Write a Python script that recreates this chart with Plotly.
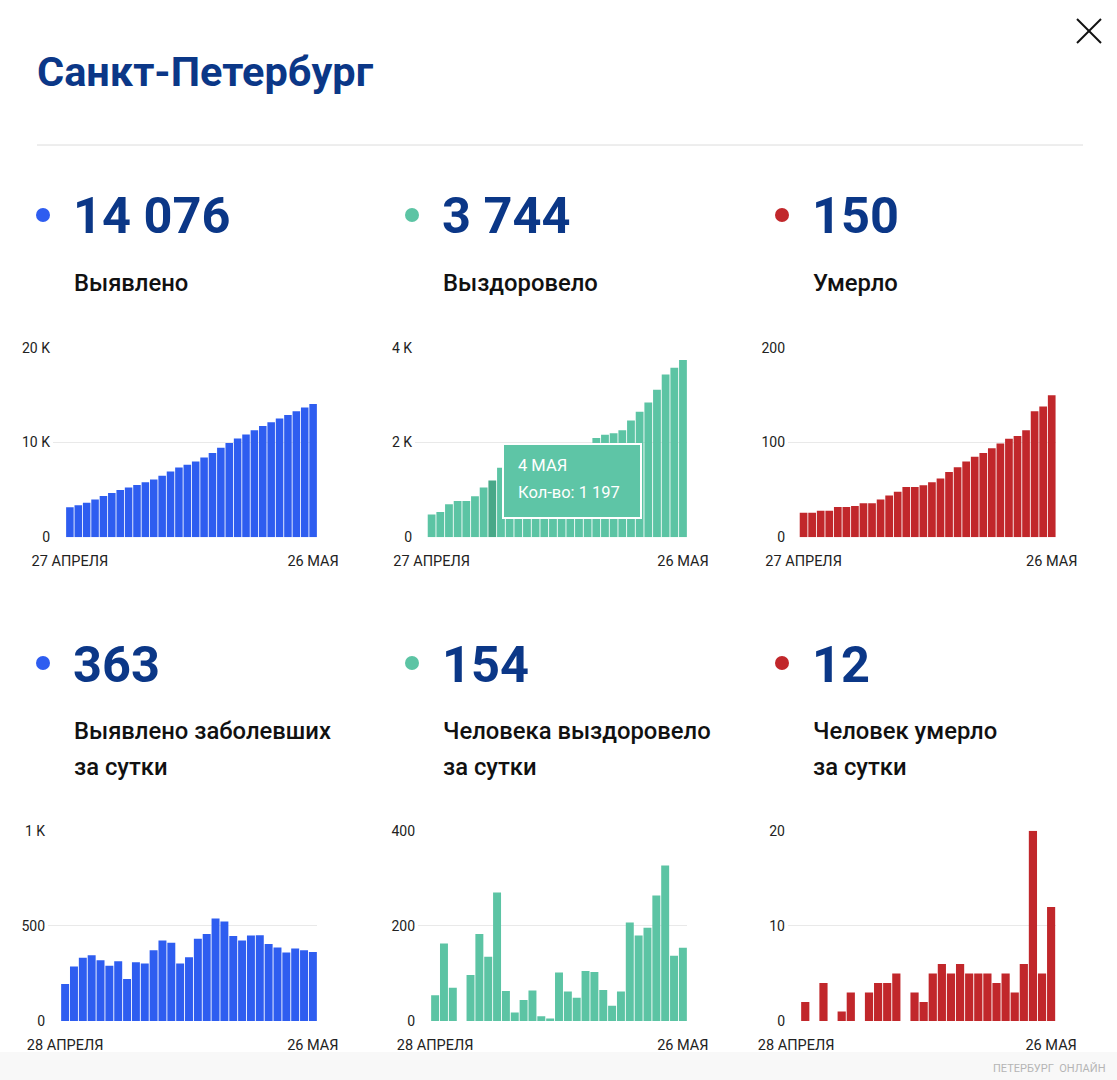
import plotly.graph_objects as go

W, H = 1117, 1080

# ---------------- data ----------------
total_start_label = "27 АПРЕЛЯ"
daily_start_label = "28 АПРЕЛЯ"
end_label = "26 МАЯ"

confirmed_total = [3160, 3370, 3650, 4000, 4350, 4670, 4980, 5260, 5510, 5820,
                   6110, 6490, 6950, 7370, 7650, 8000, 8420, 8910, 9440, 9960,
                   10420, 10840, 11300, 11750, 12140, 12530, 12910, 13300, 13690, 14076]
recovered_total = [480, 535, 700, 765, 765, 865, 1050, 1197, 1467, 1530,
                   1548, 1592, 1656, 1666, 1671, 1773, 1835, 1884, 1989, 2095,
                   2165, 2195, 2258, 2468, 2650, 2846, 3112, 3437, 3577, 3744]
deaths_total = [26, 26, 28, 28, 32, 32, 33, 36, 36, 40,
                44, 48, 53, 53, 55, 58, 62, 69, 74, 80,
                85, 89, 94, 99, 104, 107, 113, 133, 138, 150]

confirmed_daily = [195, 286, 332, 346, 319, 291, 314, 221, 309, 302,
                   372, 423, 412, 302, 335, 432, 458, 539, 523, 447,
                   423, 449, 451, 405, 386, 360, 381, 372, 363]
recovered_daily = [54, 163, 70, 0, 97, 183, 135, 270, 63, 18,
                   44, 64, 10, 5, 102, 62, 49, 105, 103, 65,
                   32, 62, 207, 180, 196, 264, 327, 137, 154]
deaths_daily = [0, 2, 0, 4, 0, 1, 3, 0, 3, 4,
                4, 5, 0, 3, 2, 5, 6, 5, 6, 5,
                5, 5, 4, 5, 3, 6, 20, 5, 12]

top_labels = ["Выявлено", "Выздоровело", "Умерло"]
bottom_labels = [["Выявлено заболевших", "за сутки"],
                 ["Человека выздоровело", "за сутки"],
                 ["Человек умерло", "за сутки"]]

y_ticks = [
    ([0, 10000, 20000], ["0", "10 K", "20 K"]),
    ([0, 2000, 4000], ["0", "2 K", "4 K"]),
    ([0, 100, 200], ["0", "100", "200"]),
    ([0, 500, 1000], ["0", "500", "1 K"]),
    ([0, 200, 400], ["0", "200", "400"]),
    ([0, 10, 20], ["0", "10", "20"]),
]

tooltip_index = 7
tooltip_date = "4 МАЯ"

# ---------------- style ----------------
BLUE = "#2e5df0"
GREEN = "#5cc4a4"
GREEN_DARK = "#48a888"
RED = "#c1272b"
NAVY = "#0b3787"
FONT = "Roboto"


def fmt(v):
    return f"{v:,}".replace(",", " ")


def px(x):
    return x / W


def py(y):
    return 1 - y / H


fig = go.Figure()

series = [confirmed_total, recovered_total, deaths_total,
          confirmed_daily, recovered_daily, deaths_daily]
colors = [BLUE, GREEN, RED, BLUE, GREEN, RED]
start_labels = [total_start_label] * 3 + [daily_start_label] * 3

# pixel geometry: (grid start, bar start, bar end)
geo = [(53, 65.7, 317.3), (415, 427.3, 687.3), (788, 799.3, 1056),
       (48, 60.7, 317.3), (418, 430.7, 687.3), (788, 791.6, 1055.7)]
rows_y = [(537.3, 347.7), (1021, 830.7)]

for i, vals in enumerate(series):
    n = len(vals)
    xs = list(range(n))
    col = [colors[i]] * n
    if i == 1:
        col[tooltip_index] = GREEN_DARK
    ax = "" if i == 0 else str(i + 1)
    fig.add_trace(go.Bar(x=xs, y=vals, marker=dict(color=col, line=dict(width=0)),
                         xaxis="x" + ax, yaxis="y" + ax, hoverinfo="skip"))
    g0, b0, b1 = geo[i]
    s = (b1 - b0) / n
    r0 = -0.5 - (b0 - g0) / s
    yb, yt = rows_y[i // 3]
    tv, tt = y_ticks[i]
    fig.layout["xaxis" + ax] = dict(
        domain=[px(g0), px(b1)], range=[r0, n - 0.5], anchor="y" + ax,
        tickmode="array", tickvals=[0, n - 1], ticktext=[start_labels[i], end_label],
        showgrid=False, zeroline=False, showline=False, ticks="", automargin=False,
        tickfont=dict(family=FONT, size=14.5, color="#222"), fixedrange=True,
        ticklabelstandoff=13)
    fig.layout["yaxis" + ax] = dict(
        domain=[py(yb), py(yt)], range=[0, tv[-1] * 1.0005], anchor="x" + ax,
        tickmode="array", tickvals=tv, ticktext=tt, automargin=False,
        showgrid=True, gridcolor="#e9e9e9", gridwidth=1, zeroline=False,
        showline=False, ticks="", tickfont=dict(family=FONT, size=14, color="#222"),
        fixedrange=True, ticklabelstandoff=2)

ann = []
# title
ann.append(dict(x=px(35), y=py(72), text="<b>Санкт-Петербург</b>", showarrow=False,
                xref="paper", yref="paper", xanchor="left", yanchor="middle",
                font=dict(family=FONT, size=41.5, color=NAVY)))

col_x = [37, 406, 776]
top_vals = [confirmed_total[-1], recovered_total[-1], deaths_total[-1]]
bot_vals = [confirmed_daily[-1], recovered_daily[-1], deaths_daily[-1]]
shapes = []
for k in range(3):
    cx = col_x[k]
    for yy, v in ((215, top_vals[k]), (663, bot_vals[k])):
        shapes.append(dict(type="circle", xref="paper", yref="paper",
                           x0=px(cx - 1), x1=px(cx + 13), y0=py(yy + 7), y1=py(yy - 7),
                           fillcolor=colors[k], line=dict(width=0)))
        ann.append(dict(x=px(cx + 34), y=py(yy + 1), text=f"<b>{fmt(v)}</b>", showarrow=False,
                        xref="paper", yref="paper", xanchor="left", yanchor="middle",
                        font=dict(family=FONT, size=50.5, color=NAVY)))
    ann.append(dict(x=px(cx + 35), y=py(283), text=top_labels[k], showarrow=False,
                    xref="paper", yref="paper", xanchor="left", yanchor="middle",
                    font=dict(family=FONT, size=23.8, color="#111", weight=500)))
    for j, line in enumerate(bottom_labels[k]):
        ann.append(dict(x=px(cx + 35), y=py(731 + 36 * j), text=line, showarrow=False,
                        xref="paper", yref="paper", xanchor="left", yanchor="middle",
                        font=dict(family=FONT, size=23.8, color="#111", weight=500)))

# tooltip on hovered bar: box + two text lines
tx, ty = tooltip_index, recovered_total[tooltip_index]
ann.append(dict(x=tx, y=ty, xref="x2", yref="y2", xanchor="left", yanchor="middle",
                xshift=10, showarrow=False, text="", width=136, height=72,
                bgcolor="#5ec5a6", bordercolor="white", borderwidth=2, borderpad=0))
ann.append(dict(x=tx, y=ty, xref="x2", yref="y2", xanchor="left", yanchor="middle",
                xshift=24, yshift=15, showarrow=False, text=tooltip_date,
                font=dict(family=FONT, size=16.5, color="white")))
ann.append(dict(x=tx, y=ty, xref="x2", yref="y2", xanchor="left", yanchor="middle",
                xshift=24, yshift=-12, showarrow=False,
                text=f"Кол-во: {fmt(recovered_total[tooltip_index])}",
                font=dict(family=FONT, size=16.5, color="white")))

# watermark text
ann.append(dict(x=px(1108), y=py(1068), text="ПЕТЕРБУРГ  ОНЛАЙН", showarrow=False,
                xref="paper", yref="paper", xanchor="right", yanchor="middle",
                font=dict(family=FONT, size=11, color="#b5b5b5")))

# separator
shapes.append(dict(type="line", xref="paper", yref="paper", x0=px(37), x1=px(1083),
                   y0=py(145), y1=py(145), line=dict(color="#dcdcdc", width=1)))
# close icon
shapes.append(dict(type="line", xref="paper", yref="paper", x0=px(1077), x1=px(1101),
                   y0=py(19), y1=py(43), line=dict(color="#111", width=2)))
shapes.append(dict(type="line", xref="paper", yref="paper", x0=px(1101), x1=px(1077),
                   y0=py(19), y1=py(43), line=dict(color="#111", width=2)))
# bottom band
shapes.append(dict(type="rect", xref="paper", yref="paper", x0=0, x1=1, y0=0, y1=py(1052),
                   fillcolor="#f8f8f8", line=dict(width=0), layer="below"))

fig.update_layout(width=W, height=H, margin=dict(l=0, r=0, t=0, b=0, autoexpand=False),
                  paper_bgcolor="white", plot_bgcolor="rgba(0,0,0,0)", showlegend=False,
                  bargap=0.1, font=dict(family=FONT), annotations=ann, shapes=shapes)

fig.write_html("out.html")
